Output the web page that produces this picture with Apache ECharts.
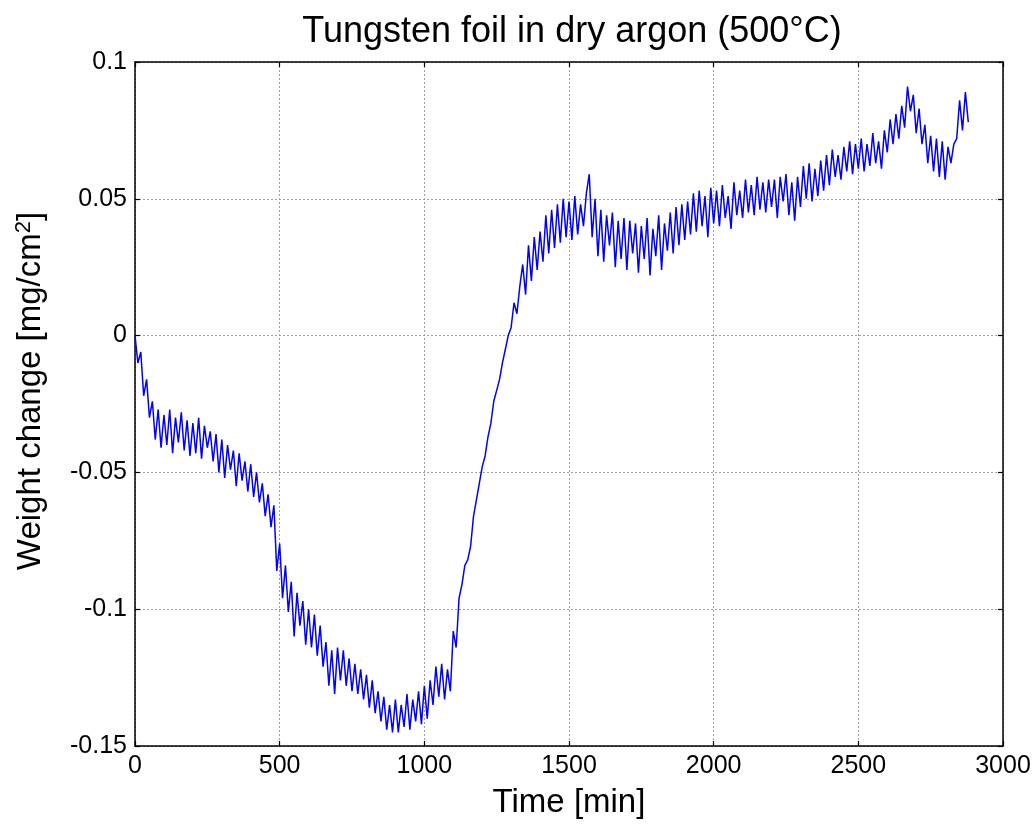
<!DOCTYPE html>
<html>
<head>
<meta charset="utf-8">
<title>Tungsten foil in dry argon</title>
<script src="https://cdn.jsdelivr.net/npm/echarts@6/dist/echarts.min.js"></script>
<style>
  html, body { margin: 0; padding: 0; background: #fff; }
  #chart { width: 1036px; height: 830px; }
</style>
</head>
<body>
<div id="chart"></div>
<script>
// sampling interval of the readings [min]
const sampleStep = 10

// weight change, in 0.001 mg/cm^2, one value per 10 min (0 .. 2880 min)
const weightMilli = [
  0, -10, -6, -22, -16, -30, -24, -38, -27, -41,
  -29, -40, -27, -43, -30, -39, -28, -42, -31, -44,
  -32, -43, -30, -45, -33, -41, -35, -46, -36, -50,
  -38, -52, -40, -49, -42, -55, -43, -53, -46, -57,
  -47, -59, -50, -61, -54, -66, -58, -70, -62, -86,
  -76, -96, -84, -101, -90, -110, -94, -106, -97, -113,
  -100, -114, -102, -117, -106, -121, -112, -128, -115, -131,
  -114, -126, -115, -128, -118, -130, -120, -131, -122, -133,
  -124, -136, -126, -138, -130, -141, -132, -144, -135, -145,
  -133, -145, -135, -143, -131, -144, -133, -141, -130, -142,
  -128, -140, -126, -135, -121, -132, -120, -133, -122, -130,
  -108, -114, -96, -91, -84, -82, -77, -66, -60, -54,
  -48, -44, -37, -32, -24, -20, -16, -10, -5, 0,
  3, 12, 8, 18, 26, 15, 33, 20, 36, 24,
  38, 27, 44, 30, 46, 32, 48, 34, 50, 36,
  49, 35, 51, 37, 48, 40, 52, 59, 36, 50,
  29, 46, 27, 44, 33, 45, 25, 42, 28, 43,
  24, 42, 30, 41, 23, 40, 28, 43, 22, 39,
  29, 44, 24, 41, 31, 45, 30, 47, 33, 48,
  35, 49, 37, 52, 38, 53, 40, 51, 36, 54,
  41, 53, 40, 55, 43, 51, 39, 56, 44, 53,
  43, 57, 45, 55, 44, 58, 46, 56, 45, 57,
  47, 57, 43, 58, 49, 59, 44, 56, 42, 58,
  47, 62, 50, 63, 49, 61, 51, 64, 53, 66,
  55, 68, 58, 66, 57, 69, 60, 71, 59, 70,
  61, 72, 60, 70, 62, 74, 63, 71, 61, 75,
  67, 79, 70, 81, 72, 84, 76, 91, 82, 88,
  74, 83, 70, 77, 63, 73, 60, 72, 58, 71,
  57, 69, 63, 70, 72, 86, 75, 89, 78
]

const xTicks = [0, 500, 1000, 1500, 2000, 2500, 3000]
const yTicks = [-0.15, -0.1, -0.05, 0, 0.05, 0.1]

const chart = echarts.init(document.getElementById('chart'))

const font = 'Arial, "Liberation Sans", Helvetica, sans-serif'
const points = weightMilli.map((v, i) => [i * sampleStep, v / 1000])

const gridLine = { show: true, lineStyle: { color: '#a0a0a0', type: [2, 2], width: 1 } }
const boxLine = { show: true, onZero: false, lineStyle: { color: '#000', width: 1.5 } }
const innerTick = { show: true, inside: true, length: 5, lineStyle: { color: '#000', width: 1.2 } }

const xBase = { type: 'value', min: xTicks[0], max: xTicks[xTicks.length - 1], interval: 500 }
const yBase = { type: 'value', min: yTicks[0], max: yTicks[yTicks.length - 1], interval: 0.05 }

const option = {
  animation: false,
  backgroundColor: '#fff',
  title: {
    text: 'Tungsten foil in dry argon (500°C)',
    left: 567,
    textAlign: 'center',
    top: 9,
    textStyle: { fontFamily: font, fontSize: 36, fontWeight: 'normal', color: '#000' }
  },
  grid: { left: 135, right: 33, top: 62, bottom: 84 },
  xAxis: [
    {
      ...xBase,
      position: 'bottom',
      name: 'Time [min]',
      nameLocation: 'middle',
      nameGap: 40,
      nameTextStyle: { fontFamily: font, fontSize: 33, color: '#000' },
      axisLine: boxLine,
      axisTick: innerTick,
      axisLabel: { fontFamily: font, fontSize: 25, color: '#000', margin: 8, formatter: v => String(v) },
      splitLine: gridLine
    },
    {
      ...xBase,
      position: 'top',
      axisLine: boxLine,
      axisTick: innerTick,
      axisLabel: { show: false },
      splitLine: { show: false }
    }
  ],
  yAxis: [
    {
      ...yBase,
      position: 'left',
      name: '{n|Weight change [mg/cm}{s|2}{n|]}',
      nameLocation: 'middle',
      nameGap: 86,
      nameTextStyle: {
        fontFamily: font,
        fontSize: 33,
        color: '#000',
        padding: [0, 0, 0, 26],
        rich: {
          n: { fontFamily: font, fontSize: 33, color: '#000' },
          s: { fontFamily: font, fontSize: 22, color: '#000', verticalAlign: 'top', padding: [0, 0, 14, 0] }
        }
      },
      axisLine: boxLine,
      axisTick: innerTick,
      axisLabel: { fontFamily: font, fontSize: 25, color: '#000', margin: 8 },
      splitLine: gridLine
    },
    {
      ...yBase,
      position: 'right',
      axisLine: boxLine,
      axisTick: innerTick,
      axisLabel: { show: false },
      splitLine: { show: false }
    }
  ],
  series: [
    {
      type: 'line',
      data: points,
      showSymbol: false,
      symbol: 'none',
      lineStyle: { color: '#0000ff', width: 1.5 },
      itemStyle: { color: '#0000ff' }
    }
  ]
}

chart.setOption(option)
</script>
</body>
</html>
